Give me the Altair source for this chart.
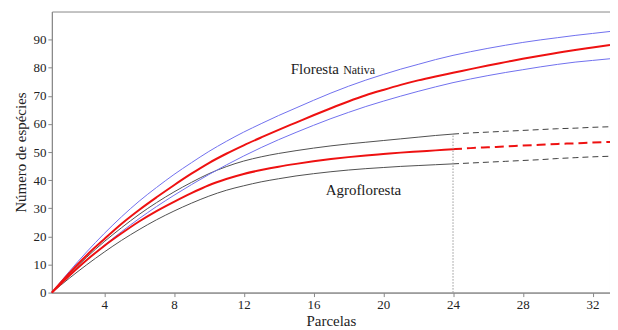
import altair as alt
import pandas as pd

parcelas = list(range(1, 34))

fn_mean = [0, 6.9, 13.3, 19.0, 24.5, 29.4, 33.9, 38.2, 42.3, 46.1, 49.4, 52.4, 55.2, 57.9, 60.5,
           63.1, 65.6, 68.0, 70.2, 72.1, 73.9, 75.5, 76.9, 78.2, 79.5, 80.8, 82.0, 83.2, 84.3,
           85.3, 86.3, 87.2, 88.1]
fn_upper = [0, 7.5, 14.5, 21.0, 27.0, 32.5, 37.4, 42.0, 46.2, 50.2, 53.8, 57.1, 60.1, 63.0, 65.7,
            68.4, 71.0, 73.4, 75.6, 77.6, 79.5, 81.2, 82.9, 84.4, 85.7, 86.9, 88.0, 89.0, 89.9,
            90.7, 91.5, 92.2, 92.9]
fn_lower = [0, 6.0, 11.6, 16.8, 21.7, 26.3, 30.6, 34.6, 38.4, 42.0, 45.4, 48.6, 51.6, 54.4, 57.0,
            59.5, 61.9, 64.1, 66.2, 68.1, 69.9, 71.6, 73.2, 74.7, 76.0, 77.2, 78.3, 79.3, 80.3,
            81.2, 82.0, 82.6, 83.2]
ag_upper = [0, 6.5, 12.6, 18.1, 23.1, 27.8, 32.0, 35.8, 39.2, 42.3, 44.8, 46.8, 48.3, 49.5, 50.5,
            51.4, 52.2, 52.9, 53.5, 54.1, 54.7, 55.3, 55.9, 56.4, 56.8, 57.1, 57.4, 57.7, 58.0,
            58.3, 58.5, 58.8, 59.0]
ag_mean = [0, 6.0, 11.6, 16.6, 21.1, 25.3, 29.0, 32.3, 35.4, 38.2, 40.4, 42.2, 43.6, 44.8, 45.8,
           46.7, 47.5, 48.2, 48.8, 49.3, 49.8, 50.2, 50.6, 51.0, 51.4, 51.7, 52.0, 52.3, 52.6,
           52.9, 53.1, 53.4, 53.6]
ag_lower = [0, 5.1, 9.9, 14.4, 18.6, 22.4, 25.9, 29.0, 31.8, 34.3, 36.4, 38.0, 39.4, 40.5, 41.5,
            42.3, 43.0, 43.6, 44.1, 44.5, 44.9, 45.2, 45.5, 45.8, 46.1, 46.4, 46.7, 47.0, 47.3,
            47.7, 48.0, 48.3, 48.5]

n_obs = 24  # observed plots in agroforest; beyond is extrapolation
x_ticks = [4, 8, 12, 16, 20, 24, 28, 32]
y_ticks = [0, 10, 20, 30, 40, 50, 60, 70, 80, 90]

FONT = "Liberation Serif"


def frame(series_dict, xmin=None, xmax=None):
    rows = []
    for name, vals in series_dict.items():
        for x, y in zip(parcelas, vals):
            if (xmin is None or x >= xmin) and (xmax is None or x <= xmax):
                rows.append({"x": x, "y": y, "s": name})
    return pd.DataFrame(rows)


xs = alt.Scale(domain=[1, 33], nice=False, zero=False)
ys = alt.Scale(domain=[0, 100], nice=False)
xenc = alt.X("x:Q", scale=xs, axis=alt.Axis(values=x_ticks, title="Parcelas", grid=False,
                                             labelOverlap=False, tickCount=8))
yenc = alt.Y("y:Q", scale=ys, axis=alt.Axis(values=y_ticks, title="Número de espécies", grid=False,
                                             labelOverlap=False, tickCount=10))

fn_bounds = alt.Chart(frame({"u": fn_upper, "l": fn_lower})).mark_line(
    color="#7070ee", strokeWidth=1, interpolate="monotone"
).encode(x=xenc, y=yenc, detail="s:N")

fn_line = alt.Chart(frame({"m": fn_mean})).mark_line(
    color="#ee1111", strokeWidth=2, interpolate="monotone"
).encode(x="x:Q", y="y:Q")

ag_bounds_solid = alt.Chart(frame({"u": ag_upper, "l": ag_lower}, xmax=n_obs)).mark_line(
    color="#505050", strokeWidth=1, interpolate="monotone"
).encode(x="x:Q", y="y:Q", detail="s:N")

ag_bounds_dash = alt.Chart(frame({"u": ag_upper, "l": ag_lower}, xmin=n_obs)).mark_line(
    color="#404040", strokeWidth=1, strokeDash=[6, 4], interpolate="monotone"
).encode(x="x:Q", y="y:Q", detail="s:N")

ag_line_solid = alt.Chart(frame({"m": ag_mean}, xmax=n_obs)).mark_line(
    color="#ee1111", strokeWidth=2, interpolate="monotone"
).encode(x="x:Q", y="y:Q")

ag_line_dash = alt.Chart(frame({"m": ag_mean}, xmin=n_obs)).mark_line(
    color="#ee1111", strokeWidth=2, strokeDash=[9, 5], interpolate="monotone"
).encode(x="x:Q", y="y:Q")

vline = alt.Chart(pd.DataFrame({"x": [n_obs], "y": [0], "y2": [ag_upper[n_obs - 1]]})).mark_rule(
    color="#999999", strokeWidth=1, strokeDash=[1.5, 1.5]
).encode(x="x:Q", y="y:Q", y2="y2:Q")


def label(text, x, y, size):
    return alt.Chart(pd.DataFrame({"t": [text]})).mark_text(
        align="left", baseline="alphabetic", font=FONT, fontSize=size, color="#1a1a1a"
    ).encode(x=alt.datum(x), y=alt.datum(y), text="t:N")


texts = (label("Floresta", 14.7, 77.9, 15) + label("Nativa", 17.7, 77.9, 12)
         + label("Agrofloresta", 16.7, 34.8, 15))

chart = alt.layer(
    ag_bounds_solid, ag_bounds_dash, fn_bounds, ag_line_solid, ag_line_dash, fn_line, vline, texts
).properties(
    width=560, height=282,
    autosize=alt.AutoSizeParams(type="none"),
    padding={"left": 44, "top": 3, "right": 0, "bottom": 38},
    background="white",
).configure_view(
    stroke="#888888", strokeWidth=1
).configure_axis(
    labelFont=FONT, titleFont=FONT, labelFontSize=13, titleFontSize=15,
    labelColor="#222222", titleColor="#222222", titleFontWeight="normal",
    domainColor="#888888", tickColor="#888888", tickSize=4, labelPadding=2,
).configure_axisX(titlePadding=2).configure_axisY(titlePadding=4)

chart.save("out.html", embed_options={"renderer": "svg", "actions": False})
